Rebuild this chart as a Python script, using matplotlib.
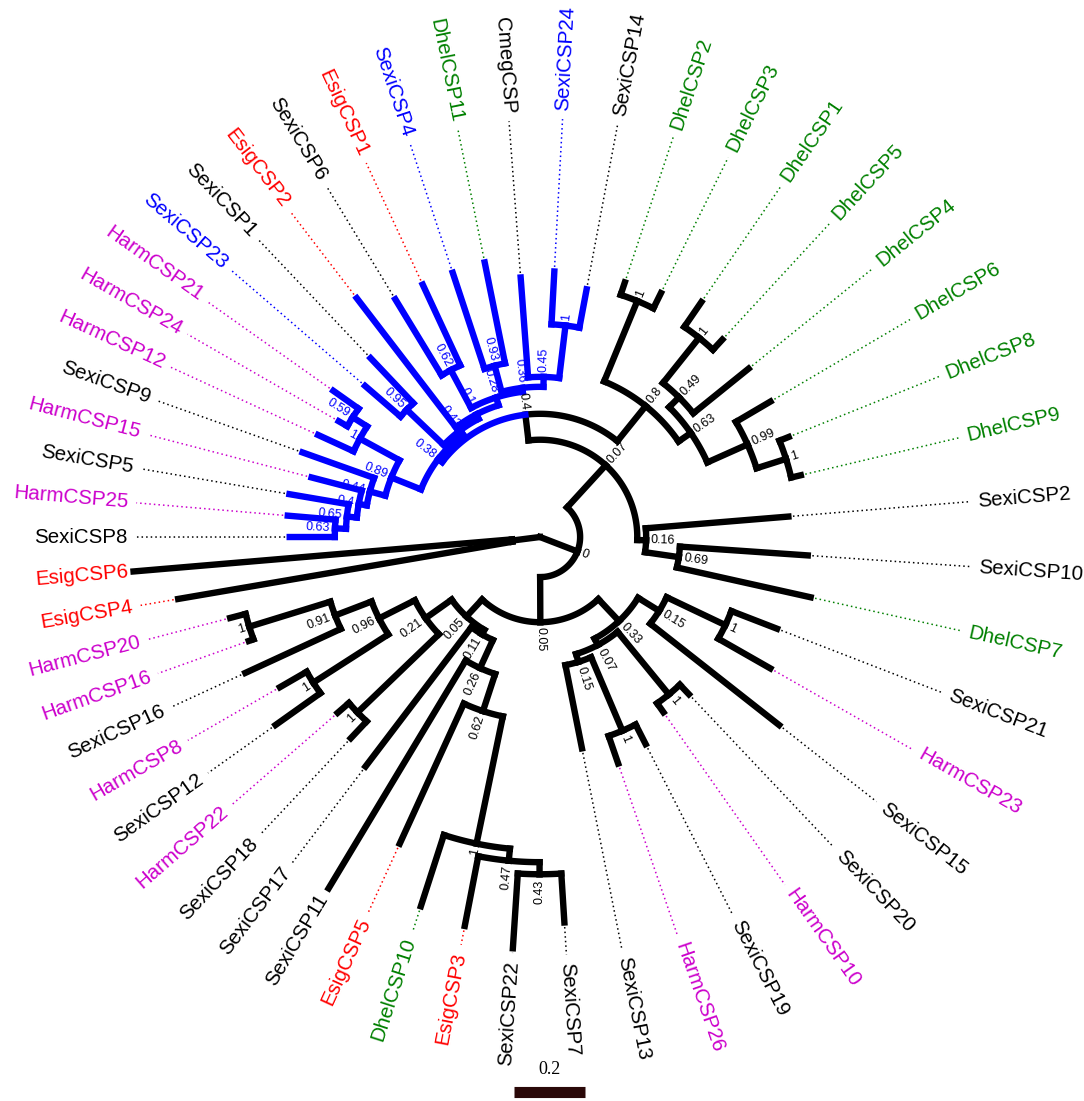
import numpy as np
import matplotlib
matplotlib.use("Agg")
import matplotlib.pyplot as plt

# ---- tree data: newick per clade, children listed clockwise ----
# name:branch length, internal nodes carry their support value
blue_low = ("(((((SexiCSP8:0.127,HarmCSP25:0.135)0.63:0.031,SexiCSP5:0.169)0.65:0.028,"
            "HarmCSP15:0.146)0.4:0.023,SexiCSP9:0.214)0.44:0.045,"
            "(HarmCSP12:0.110,(HarmCSP24:0.028,HarmCSP21:0.087)0.59:0.048)1:0.127)0.89:0.090")
blue_up = ("((SexiCSP23:0.132,SexiCSP1:0.175)0.95:0.144,(EsigCSP2:0.459,"
           "((SexiCSP6:0.251,EsigCSP1:0.251)0.62:0.121,((SexiCSP4:0.285,DhelCSP11:0.290)0.93:0.076,"
           "(CmegCSP:0.282,(SexiCSP24:0.149,SexiCSP14:0.110)1:0.149)0.45:0.028)0.36:0.011)0.28:0.023)"
           "0.12:0.014)0.43:0.014")
dhel = ("((DhelCSP2:0.037,DhelCSP3:0.048)1:0.245,(((DhelCSP1:0.085,DhelCSP5:0.039)1:0.163,"
        "DhelCSP4:0.200)0.49:0.039,(DhelCSP6:0.113,(DhelCSP8:0.028,DhelCSP9:0.028)1:0.087)0.99:0.124)"
        "0.63:0.042)0.8:0.127")
right = "(SexiCSP2:0.403,(SexiCSP10:0.361,DhelCSP7:0.386)0.69:0.096)0.16:0.025"
lower_right = ("(((SexiCSP21:0.138,HarmCSP23:0.169)1:0.183,SexiCSP15:0.462)0.15:0.070,"
               "((SexiCSP20:0.037,HarmCSP10:0.031)1:0.228,((SexiCSP19:0.062,HarmCSP26:0.082)1:0.225,"
               "SexiCSP13:0.239)0.15:0.023)0.07:0.020)0.33:0.085")
lower_left = ("(((((((SexiCSP7:0.138,SexiCSP22:0.211)0.43:0.034,EsigCSP3:0.200)0.47:0.034,"
              "DhelCSP10:0.211)1:0.366,EsigCSP5:0.434)0.62:0.110,SexiCSP11:0.749)0.26:0.087,"
              "SexiCSP17:0.493)0.11:0.014,((SexiCSP18:0.065,HarmCSP22:0.042)1:0.318,"
              "((SexiCSP12:0.155,HarmCSP8:0.087)1:0.251,(SexiCSP16:0.296,"
              "(HarmCSP16:0.014,HarmCSP20:0.045)1:0.239)0.91:0.110)0.96:0.113)0.21:0.090)0.05:0.065")
esig = "(EsigCSP4:0.955,EsigCSP6:1.070):0.079"

blue = f"({blue_low},{blue_up})0.38:0.014"
n04 = f"({blue},{dhel})0.4:0.073"
n07 = f"({n04},{right})0.07:0.161"
n05 = f"({lower_right},{lower_left})0.05:0.127"
n0 = f"({n07},{n05})0:0.113"
tree_str = f"({n0},{esig});"

label_colors = {"Sexi": "black", "Cmeg": "black", "Dhel": "#008000",
                "Esig": "#ff0000", "Harm": "#cc00cc"}
blue_labels = ["SexiCSP23", "SexiCSP4", "SexiCSP24"]
blue_clade = ["SexiCSP8", "SexiCSP14"]
scale_len = 0.2

# ---- layout ----
PX = 355.0                 # pixels per unit of branch length
CX, CY = 540, 537          # tree centre in the picture
W, H = 1084, 1101
C_LAB = np.array([13, 0]) / PX          # centre of the label ring, relative to tree centre
R_TXT = 426 / PX
GAP = 8 / PX
P = C_LAB + np.array([-132, 1]) / PX    # tips are evenly spaced as seen from here
PHI0 = 180.2
LW = 4.6
BLUE = "#0000ff"
FONT = "Liberation Sans"


def parse(s):
    pos = 0

    def node():
        nonlocal pos
        kids = []
        if s[pos] == "(":
            pos += 1
            kids.append(node())
            while s[pos] == ",":
                pos += 1
                kids.append(node())
            pos += 1
        start = pos
        while s[pos] not in ":,();":
            pos += 1
        label = s[start:pos]
        length = 0.0
        if s[pos] == ":":
            pos += 1
            start = pos
            while s[pos] not in ",();":
                pos += 1
            length = float(s[start:pos])
        return {"kids": kids, "label": label, "len": length}
    return node()


def label_point(phi_deg):
    u = np.array([np.cos(np.radians(phi_deg)), np.sin(np.radians(phi_deg))])
    q = P - C_LAB
    qu = q @ u
    t = -qu + np.sqrt(qu ** 2 - q @ q + R_TXT ** 2)
    return P + t * u


tree = parse(tree_str)
tips = []
all_nodes = []


def place(n, r0):
    all_nodes.append(n)
    n["r0"] = r0
    n["r"] = r0 + n["len"]
    if not n["kids"]:
        n["tips"] = [n["label"]]
        tips.append(n)
        return
    n["tips"] = []
    for k in n["kids"]:
        place(k, n["r"])
        n["tips"] += k["tips"]


place(tree, 0.0)

phi = PHI0 - np.arange(len(tips)) * 360.0 / len(tips)
pts = [label_point(f) for f in phi]
ang = np.unwrap([np.arctan2(p[1], p[0]) for p in pts])
for t, a, p in zip(tips, ang, pts):
    t["a"] = a
    t["lab"] = p


def set_angle(n):
    if n["kids"]:
        for k in n["kids"]:
            set_angle(k)
        n["a"] = (n["kids"][0]["a"] + n["kids"][-1]["a"]) / 2


set_angle(tree)

blue_node = min((n for n in all_nodes if set(blue_clade) <= set(n["tips"])),
                key=lambda n: len(n["tips"]))


def mark(n, flag):
    n["blue"] = flag or n is blue_node
    for k in n["kids"]:
        mark(k, n["blue"])


mark(tree, False)

fig = plt.figure(figsize=(W / 100, H / 100), dpi=100)
ax = fig.add_axes([0, 0, 1, 1])
ax.set_xlim(-CX / PX, (W - CX) / PX)
ax.set_ylim(-(H - CY) / PX, CY / PX)
ax.axis("off")


def rot_of(a):
    deg = np.degrees(a) % 360
    if 90 < deg < 270:
        return deg - 180, "right"
    return deg, "left"


# branches
for n in all_nodes:
    col = BLUE if n["blue"] else "black"
    z = 3 if n["blue"] else 2
    if n is not tree:
        ax.plot([n["r0"] * np.cos(n["a"]), n["r"] * np.cos(n["a"])],
                [n["r0"] * np.sin(n["a"]), n["r"] * np.sin(n["a"])],
                color=col, lw=LW, solid_capstyle="projecting", zorder=z)
    if n["kids"] and n["r"] > 0:
        for k in n["kids"]:
            a = np.linspace(n["a"], k["a"], 60)
            ax.plot(n["r"] * np.cos(a), n["r"] * np.sin(a),
                    color=BLUE if k["blue"] else "black", lw=LW,
                    solid_capstyle="projecting", zorder=3 if k["blue"] else 2)

# support values
for n in all_nodes:
    if not n["kids"] or not n["label"]:
        continue
    rr = n["r"] + 5 / PX
    rot, ha = rot_of(n["a"])
    ax.text(rr * np.cos(n["a"]), rr * np.sin(n["a"]), n["label"], rotation=rot,
            rotation_mode="anchor", ha=ha, va="center", fontsize=9, family=FONT,
            color=BLUE if n["blue"] else "black", zorder=4)

# tip labels and dotted leaders
for t in tips:
    name = t["label"]
    col = BLUE if name in blue_labels else label_colors[name[:4]]
    a = t["a"]
    d = np.array([np.cos(a), np.sin(a)])
    end = t["lab"] - GAP * d
    ax.plot([t["r"] * d[0], end[0]], [t["r"] * d[1], end[1]],
            color=col, lw=1.1, ls=(0, (1, 2)), zorder=1)
    rot, ha = rot_of(a)
    ax.text(t["lab"][0], t["lab"][1], name, rotation=rot, rotation_mode="anchor",
            ha=ha, va="center", fontsize=14.8, family=FONT, color=col)

# scale bar
x0 = (514 - CX) / PX
yb = -(1092 - CY) / PX
ax.plot([x0, x0 + scale_len], [yb, yb], color="#2a0808", lw=8, solid_capstyle="butt")
ax.text(x0 + scale_len / 2, yb + 14 / PX, f"{scale_len}", ha="center", va="bottom",
        fontsize=13, family="Liberation Serif")

fig.savefig("out.png", dpi=100)
